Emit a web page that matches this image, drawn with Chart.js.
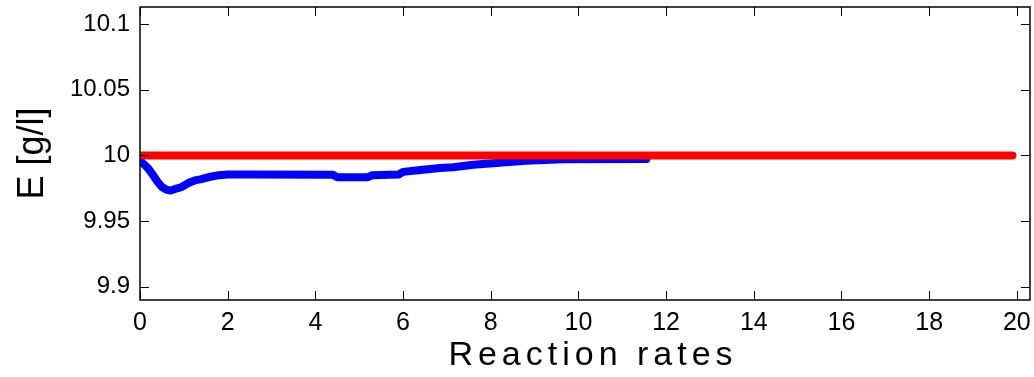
<!DOCTYPE html>
<html>
<head>
<meta charset="utf-8">
<script src="https://cdn.jsdelivr.net/npm/chart.js@4/dist/chart.umd.min.js"></script>
<style>
  html, body { margin: 0; padding: 0; background: #fff; }
  #wrap { width: 1034px; height: 377px; }
</style>
</head>
<body>
<div id="wrap"><canvas id="eChart" width="1034" height="377"></canvas></div>
<script>
// axis ticks
const xTicks = [0, 2, 4, 6, 8, 10, 12, 14, 16, 18, 20];
const yTicks = [9.9, 9.95, 10, 10.05, 10.1];
const yTickLabels = ['9.9', '9.95', '10', '10.05', '10.1'];

// blue series
const blueX = [0, 0.1, 0.19, 0.3, 0.4, 0.5, 0.6, 0.7, 0.85, 0.95, 1.1, 1.25, 1.4, 1.55, 1.8, 2.0,
  2.5, 4.4, 4.5, 5.2, 5.3, 5.9, 6.0, 6.4, 6.84, 7.14, 7.6, 8.2, 8.8, 9.65, 11.55];
const blueY = [9.996, 9.993, 9.990, 9.985, 9.980, 9.976, 9.974, 9.9733, 9.975, 9.976, 9.979, 9.981, 9.982, 9.9834, 9.985, 9.9855,
  9.9855, 9.9853, 9.9835, 9.9835, 9.985, 9.9855, 9.9875, 9.989, 9.9905, 9.991, 9.993, 9.9945, 9.996, 9.9972, 9.9973];

// red series
const redX = [0, 19.9];
const redY = [10, 10];

const toPoints = (xs, ys) => xs.map((x, i) => ({ x: x, y: ys[i] }));

// box + inward ticks like the original plot
const boxPlugin = {
  id: 'boxPlugin',
  afterDatasetsDraw(chart) {
    const { ctx, chartArea: a, scales: { x, y } } = chart;
    ctx.save();
    ctx.strokeStyle = '#000';
    ctx.lineWidth = 1;
    const tl = 9;
    ctx.beginPath();
    xTicks.forEach(v => {
      const px = Math.round(x.getPixelForValue(v)) + 0.5;
      ctx.moveTo(px, a.bottom); ctx.lineTo(px, a.bottom - tl);
      ctx.moveTo(px, a.top); ctx.lineTo(px, a.top + tl);
    });
    yTicks.forEach(v => {
      const py = Math.round(y.getPixelForValue(v)) + 0.5;
      ctx.moveTo(a.left, py); ctx.lineTo(a.left + tl, py);
      ctx.moveTo(a.right, py); ctx.lineTo(a.right - tl, py);
    });
    ctx.stroke();
    ctx.lineWidth = 1.5;
    ctx.strokeRect(a.left, a.top, a.right - a.left, a.bottom - a.top);
    ctx.restore();
  },
  afterDraw(chart) {
    // x axis title, spaced out letters
    const { ctx, chartArea: a } = chart;
    ctx.save();
    ctx.fillStyle = '#000';
    ctx.font = '34px "Liberation Sans", Arial, sans-serif';
    ctx.letterSpacing = '5px';
    ctx.textAlign = 'center';
    ctx.textBaseline = 'middle';
    ctx.fillText('Reaction rates', (a.left + a.right) / 2 + 8, 356);
    ctx.restore();
  }
};

new Chart(document.getElementById('eChart').getContext('2d'), {
  type: 'line',
  data: {
    datasets: [
      {
        label: 'red',
        data: toPoints(redX, redY),
        borderColor: '#ff0000',
        borderWidth: 8,
        borderCapStyle: 'round',
        pointRadius: 0,
        tension: 0,
        clip: 0,
        order: 0
      },
      {
        label: 'blue',
        data: toPoints(blueX, blueY),
        borderColor: '#0000ff',
        borderWidth: 8,
        borderCapStyle: 'round',
        borderJoinStyle: 'round',
        pointRadius: 0,
        tension: 0,
        clip: 0,
        order: 1
      }
    ]
  },
  options: {
    responsive: false,
    animation: false,
    devicePixelRatio: 1,
    layout: { padding: { left: 0, right: 4, top: 7, bottom: 0 } },
    plugins: { legend: { display: false }, tooltip: { enabled: false } },
    scales: {
      x: {
        type: 'linear',
        min: 0,
        max: 20.3,
        afterBuildTicks: s => { s.ticks = xTicks.map(v => ({ value: v })); },
        afterFit: s => { s.height = 77; s.paddingLeft = 0; s.paddingRight = 0; },
        grid: { display: false, drawTicks: false },
        border: { display: false },
        ticks: {
          color: '#000',
          padding: 8,
          maxRotation: 0,
          autoSkip: false,
          font: { family: '"Liberation Sans", Arial, sans-serif', size: 25 }
        }
      },
      y: {
        type: 'linear',
        min: 9.89,
        max: 10.113,
        afterBuildTicks: s => { s.ticks = yTicks.map(v => ({ value: v })); },
        afterFit: s => { s.width = 140; s.paddingTop = 0; s.paddingBottom = 0; },
        grid: { display: false, drawTicks: false },
        border: { display: false },
        ticks: {
          color: '#000',
          padding: 10,
          autoSkip: false,
          callback: v => yTickLabels[yTicks.indexOf(v)],
          font: { family: '"Liberation Sans", Arial, sans-serif', size: 24 }
        },
        title: {
          display: true,
          text: 'E [g/l]',
          color: '#000',
          padding: { top: 11, bottom: 0 },
          font: { family: '"Liberation Sans", Arial, sans-serif', size: 36 }
        }
      }
    }
  },
  plugins: [boxPlugin]
});
</script>
</body>
</html>
